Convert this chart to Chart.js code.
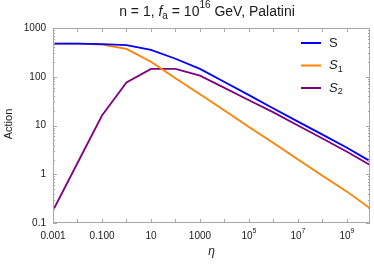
<!DOCTYPE html>
<html lang="en">
<head>
<meta charset="UTF-8">
<script src="https://cdn.jsdelivr.net/npm/chart.js"></script>
<style>
    html, body { margin: 0; padding: 0; background: #fff; }
    #wrap { width: 374px; height: 268px; }
</style>
</head>
<body>
<div id="wrap"><canvas id="chart"></canvas></div>
<script>
// values (log-log)
const etaValues = [1e-3, 1e-2, 1e-1, 1, 10, 100, 1e3, 1e4, 1e5, 1e6, 1e7, 1e8, 1e9, 8.7e9];
const sValues   = [479, 479, 468, 447, 355, 234, 145, 78, 42, 22.4, 12, 6.5, 3.5, 1.86];
const s1Values  = [479, 479, 457, 372, 204, 93, 44, 20.4, 9.3, 4.4, 2.0, 0.93, 0.44, 0.20];
const s2Values  = [0.18, 1.7, 16, 76, 145, 145, 105, 59, 33, 18.6, 10, 5.4, 2.9, 1.55];

const seriesNames  = ['S', 'S_1', 'S_2'];
const seriesColors = ['#0000ff', '#ff8000', '#800080'];

const xTicks      = [1e-3, 1e-1, 10, 1e3, 1e5, 1e7, 1e9];
const xTickLabels = ['0.001', '0.100', '10', '1000', '10^5', '10^7', '10^9'];
const yTicks      = [0.1, 1, 10, 100, 1000];
const yTickLabels = ['0.1', '1', '10', '100', '1000'];

const FONT = '"Liberation Sans", Arial, sans-serif';
const TEXT = '#1a1a1a';

// draws a run of text pieces: {t, it, sub, sup}
function drawRich(ctx, parts, x, y, size, align) {
    const fontFor = p => (p.it ? 'italic ' : '') + Math.round((p.sub || p.sup) ? size * 0.7 : size) + 'px ' + FONT;
    let w = 0;
    parts.forEach(p => { ctx.font = fontFor(p); w += ctx.measureText(p.t).width; });
    let cx = align === 'center' ? x - w / 2 : align === 'right' ? x - w : x;
    ctx.textAlign = 'left';
    ctx.textBaseline = 'middle';
    parts.forEach(p => {
        ctx.font = fontFor(p);
        let dy = p.sub ? size * 0.3 : p.sup ? -size * 0.45 : 0;
        ctx.fillText(p.t, cx, y + dy);
        cx += ctx.measureText(p.t).width;
    });
}

function parseLabel(s, italicBase) {
    if (s.includes('^')) {
        const [b, e] = s.split('^');
        return [{t: b}, {t: e, sup: true}];
    }
    if (s.includes('_')) {
        const [b, e] = s.split('_');
        return [{t: b, it: italicBase}, {t: e, sub: true}];
    }
    return [{t: s}];
}

const framePlugin = {
    id: 'frame',
    afterDatasetsDraw(chart) {
        const {ctx, chartArea: a, scales: {x, y}} = chart;
        ctx.save();

        // frame
        ctx.strokeStyle = '#a8a8a8';
        ctx.lineWidth = 1;
        ctx.strokeRect(a.left + 0.5, a.top + 0.5, a.right - a.left - 1, a.bottom - a.top - 1);

        // x ticks, every decade, top and bottom
        ctx.beginPath();
        for (let d = -3; d <= 9; d++) {
            const px = Math.round(x.getPixelForValue(Math.pow(10, d))) + 0.5;
            ctx.moveTo(px, a.bottom); ctx.lineTo(px, a.bottom - 4);
            ctx.moveTo(px, a.top); ctx.lineTo(px, a.top + 4);
        }
        // y ticks, decades + minor
        for (let d = -1; d <= 3; d++) {
            for (let m = 1; m <= 9; m++) {
                const v = m * Math.pow(10, d);
                if (v > 1000) break;
                const len = m === 1 ? 4 : 2;
                const py = Math.round(y.getPixelForValue(v)) + 0.5;
                ctx.moveTo(a.left, py); ctx.lineTo(a.left + len, py);
                ctx.moveTo(a.right, py); ctx.lineTo(a.right - len, py);
            }
        }
        ctx.stroke();

        // tick labels
        ctx.fillStyle = TEXT;
        xTicks.forEach((v, i) => {
            drawRich(ctx, parseLabel(xTickLabels[i]), x.getPixelForValue(v), a.bottom + 13, 10, 'center');
        });
        yTicks.forEach((v, i) => {
            drawRich(ctx, parseLabel(yTickLabels[i]), a.left - 7, y.getPixelForValue(v), 10, 'right');
        });

        // axis titles
        ctx.font = 'italic 12px ' + FONT;
        ctx.textAlign = 'center';
        ctx.textBaseline = 'middle';
        ctx.fillText('\u03b7', (a.left + a.right) / 2, a.bottom + 29);
        ctx.save();
        ctx.translate(9, 124);
        ctx.rotate(-Math.PI / 2);
        ctx.font = '11px ' + FONT;
        ctx.fillText('Action', 0, 0);
        ctx.restore();

        // title
        drawRich(ctx, [
            {t: 'n = 1, '}, {t: 'f', it: true}, {t: 'a', sub: true},
            {t: ' = 10'}, {t: '16', sup: true}, {t: ' GeV, Palatini'}
        ], 207, 12, 14, 'center');

        // legend
        chart.data.datasets.forEach((ds, i) => {
            const ly = 43 + i * 22.5;
            ctx.strokeStyle = ds.borderColor;
            ctx.lineWidth = 2;
            ctx.beginPath();
            ctx.moveTo(301, ly); ctx.lineTo(321, ly);
            ctx.stroke();
            ctx.fillStyle = TEXT;
            drawRich(ctx, parseLabel(ds.label, true), 329, ly, 13, 'left');
        });

        ctx.restore();
    }
};

const toPoints = vals => etaValues.map((e, i) => ({x: e, y: vals[i]}));

new Chart(document.getElementById('chart'), {
    type: 'line',
    data: {
        datasets: [sValues, s1Values, s2Values].map((vals, i) => ({
            label: seriesNames[i],
            data: toPoints(vals),
            borderColor: seriesColors[i],
            backgroundColor: seriesColors[i],
            borderWidth: 1.8,
            pointRadius: 0,
            tension: 0
        }))
    },
    options: {
        responsive: true,
        maintainAspectRatio: false,
        animation: false,
        layout: {padding: {left: 53, right: 4, top: 28, bottom: 45}},
        plugins: {legend: {display: false}, title: {display: false}, tooltip: {enabled: false}},
        scales: {
            x: {type: 'logarithmic', min: 1e-3, max: 8.7e9, display: false},
            y: {type: 'logarithmic', min: 0.1, max: 1000, display: false}
        }
    },
    plugins: [framePlugin]
});
</script>
</body>
</html>
